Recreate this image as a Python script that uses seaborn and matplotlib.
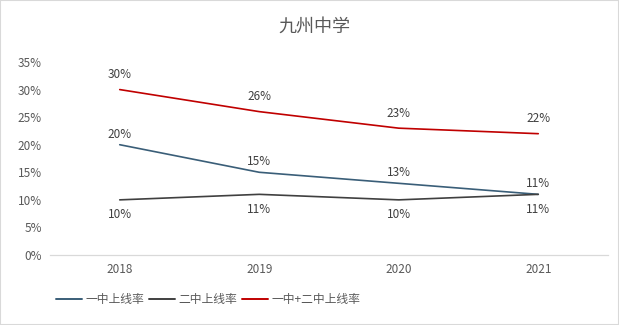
import matplotlib
matplotlib.use("Agg")
import matplotlib.pyplot as plt
import seaborn as sns
import pandas as pd
from matplotlib.ticker import PercentFormatter
from matplotlib.lines import Line2D

years = ["2018", "2019", "2020", "2021"]
school1 = [0.20, 0.15, 0.13, 0.11]
school2 = [0.10, 0.11, 0.10, 0.11]
combined = [0.30, 0.26, 0.23, 0.22]
series_names = ["一中上线率", "二中上线率", "一中+二中上线率"]
title = "九州中学"

sns.set_theme(style="white")
plt.rcParams["font.family"] = ["Noto Sans CJK SC", "DejaVu Sans"]

rows = []
for name, vals in zip(series_names, [school1, school2, combined]):
    for i, (y, v) in enumerate(zip(years, vals)):
        rows.append({"year": y, "x": i, "rate": v, "series": name})
df = pd.DataFrame(rows)

colors = {"一中上线率": "#3A5E78", "二中上线率": "#404040", "一中+二中上线率": "#C00000"}

fig = plt.figure(figsize=(6.19, 3.25), dpi=100)
ax = fig.add_axes([50/619, 1-255/325, 558/619, 193/325])
sns.lineplot(data=df, x="x", y="rate", hue="series", palette=colors, ax=ax,
             linewidth=1.2, legend=False)

ax.set_xlim(-0.5, 3.5)
ax.set_ylim(0, 0.35)
ax.set_xticks(range(len(years)))
ax.set_xticklabels(years)
ax.set_yticks([i*0.05 for i in range(8)])
ax.yaxis.set_major_formatter(PercentFormatter(1.0, decimals=0))
ax.tick_params(axis="both", labelsize=8.5, colors="#595959", length=0, pad=6)
ax.set_xlabel("")
ax.set_ylabel("")
for s in ["top", "right", "left"]:
    ax.spines[s].set_visible(False)
ax.spines["bottom"].set_color("#D9D9D9")
ax.spines["bottom"].set_linewidth(0.9)

lab_color = "#404040"
for i, v in enumerate(combined):
    ax.annotate(f"{v*100:.0f}%", (i, v), xytext=(0, 6), textcoords="offset points",
                ha="center", va="bottom", fontsize=8.5, color=lab_color)
for i, v in enumerate(school1):
    ax.annotate(f"{v*100:.0f}%", (i, v), xytext=(0, 3), textcoords="offset points",
                ha="center", va="bottom", fontsize=8.5, color=lab_color)
for i, v in enumerate(school2):
    ax.annotate(f"{v*100:.0f}%", (i, v), xytext=(0, -6), textcoords="offset points",
                ha="center", va="top", fontsize=8.5, color=lab_color)

fig.text(314/619, 1-27/325, title, ha="center", va="center", fontsize=13, color="#595959")

handles = [Line2D([0], [0], color=colors[n], lw=1.4) for n in series_names]
fig.legend(handles, series_names, loc="center left", bbox_to_anchor=(45/619, 1-300/325),
           ncol=3, frameon=False, fontsize=8.5, labelcolor="#595959",
           handlelength=2.2, handletextpad=0.35, columnspacing=0.35)

fig.patches.append(plt.Rectangle((0, 0), 1, 1, transform=fig.transFigure, fill=False,
                                 edgecolor="#D9D9D9", linewidth=1.5))
fig.savefig("out.png", dpi=100)
